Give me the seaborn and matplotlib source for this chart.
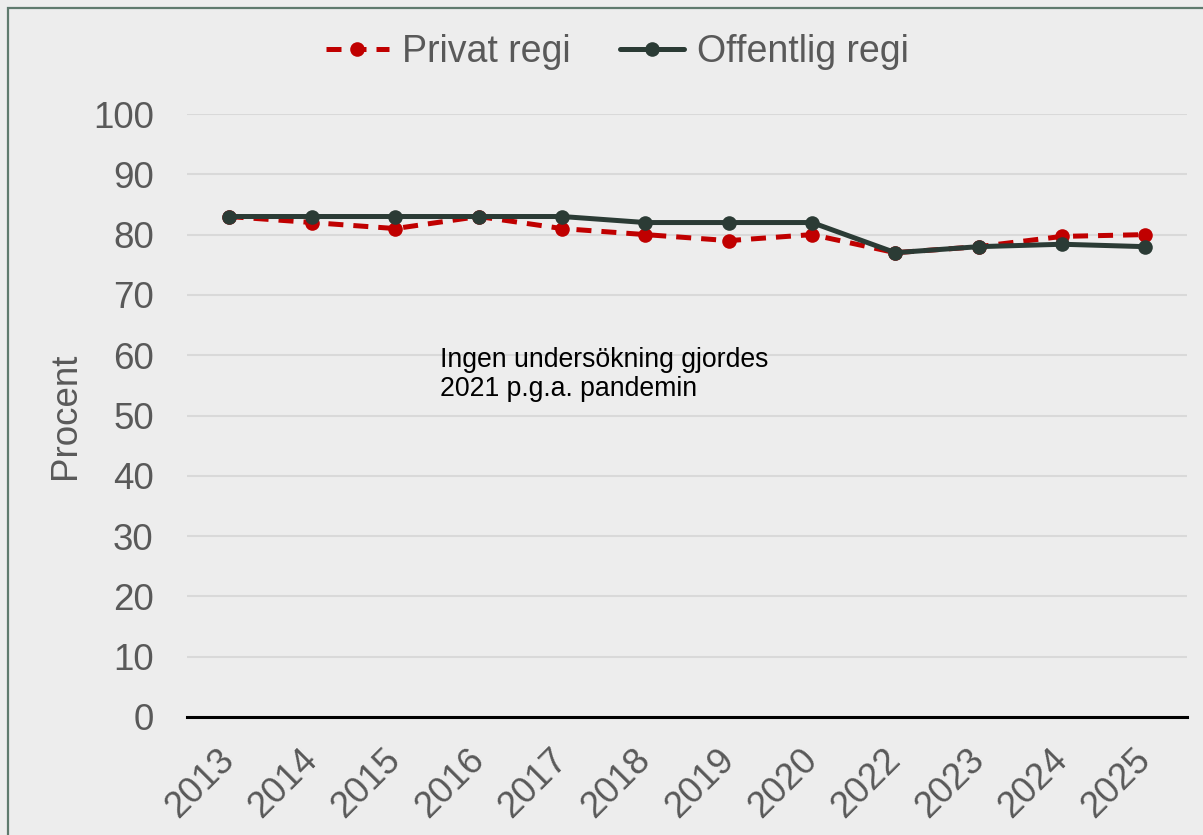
import matplotlib
matplotlib.use("Agg")
import matplotlib.pyplot as plt
import seaborn as sns
import pandas as pd
from matplotlib.patches import Rectangle

years = ["2013", "2014", "2015", "2016", "2017", "2018", "2019", "2020", "2022", "2023", "2024", "2025"]
privat = [83, 82, 81, 83, 81, 80, 79, 80, 77, 78, 79.7, 80]
offentlig = [83, 83, 83, 83, 83, 82, 82, 82, 77, 78, 78.4, 78]
yticks = [0, 10, 20, 30, 40, 50, 60, 70, 80, 90, 100]
series_names = ["Privat regi", "Offentlig regi"]
note = "Ingen undersökning gjordes\n2021 p.g.a. pandemin"

sns.set_theme(style="white")
plt.rcParams["font.family"] = ["Liberation Sans", "DejaVu Sans"]

bg = "#EDEDED"
fig = plt.figure(figsize=(12.03, 8.35), dpi=100, facecolor=bg)
ax = fig.add_axes([187/1203, 1-717/835, 1000/1203, 603/835])
ax.set_facecolor(bg)

df = pd.DataFrame({"year": years, "privat": privat, "offentlig": offentlig})

sns.lineplot(data=df, x="year", y="privat", ax=ax, color="#C00000", lw=3.6,
             linestyle=(0, (3.0, 2.0)), marker="o", markersize=10.5,
             markeredgewidth=0, label=series_names[0], sort=False, legend=False)
sns.lineplot(data=df, x="year", y="offentlig", ax=ax, color="#2B3B35", lw=3.6,
             marker="o", markersize=10.5, markeredgewidth=0,
             label=series_names[1], sort=False, legend=False)

ax.set_xlim(-0.5, len(years) - 0.5)
ax.set_ylim(0, 100)
ax.set_yticks(yticks)
ax.set_yticklabels([str(t) for t in yticks])
ax.grid(axis="y", color="#D9D9D9", lw=1.5)
ax.grid(axis="x", visible=False)
ax.set_axisbelow(True)
for s in ["top", "right", "left"]:
    ax.spines[s].set_visible(False)
ax.spines["bottom"].set_color("black")
ax.spines["bottom"].set_linewidth(2.2)
ax.spines["bottom"].set_zorder(1)

ax.tick_params(axis="y", length=0, pad=24, labelsize=26.5, labelcolor="#595959")
ax.tick_params(axis="x", length=0, pad=27, labelsize=26.5, labelcolor="#595959")
for lab in ax.get_xticklabels():
    lab.set_rotation(45)
    lab.set_ha("right")
    lab.set_va("center")
    lab.set_rotation_mode("anchor")

ax.set_xlabel("")
ax.set_ylabel("Procent", fontsize=26.5, color="#595959")
ax.yaxis.set_label_coords(-0.104, 0.5)

ax.text(2.54, 61.3, note, fontsize=19.2, color="black", va="top", ha="left",
        linespacing=1.15)

handles, labels = ax.get_legend_handles_labels()
leg = fig.legend(handles, labels, loc="center", bbox_to_anchor=(617/1203, 1-52/835),
                 ncol=2, frameon=False, fontsize=27, handlelength=1.7,
                 handletextpad=0.35, columnspacing=1.3, labelcolor="#595959")

fig.patches.append(Rectangle((8/1203, -0.05), 1.1, 1 - 8/835 + 0.05,
                             transform=fig.transFigure, fill=False,
                             edgecolor="#5F7A6E", lw=1.6, zorder=10))

fig.savefig("out.png", dpi=100, facecolor=bg)
